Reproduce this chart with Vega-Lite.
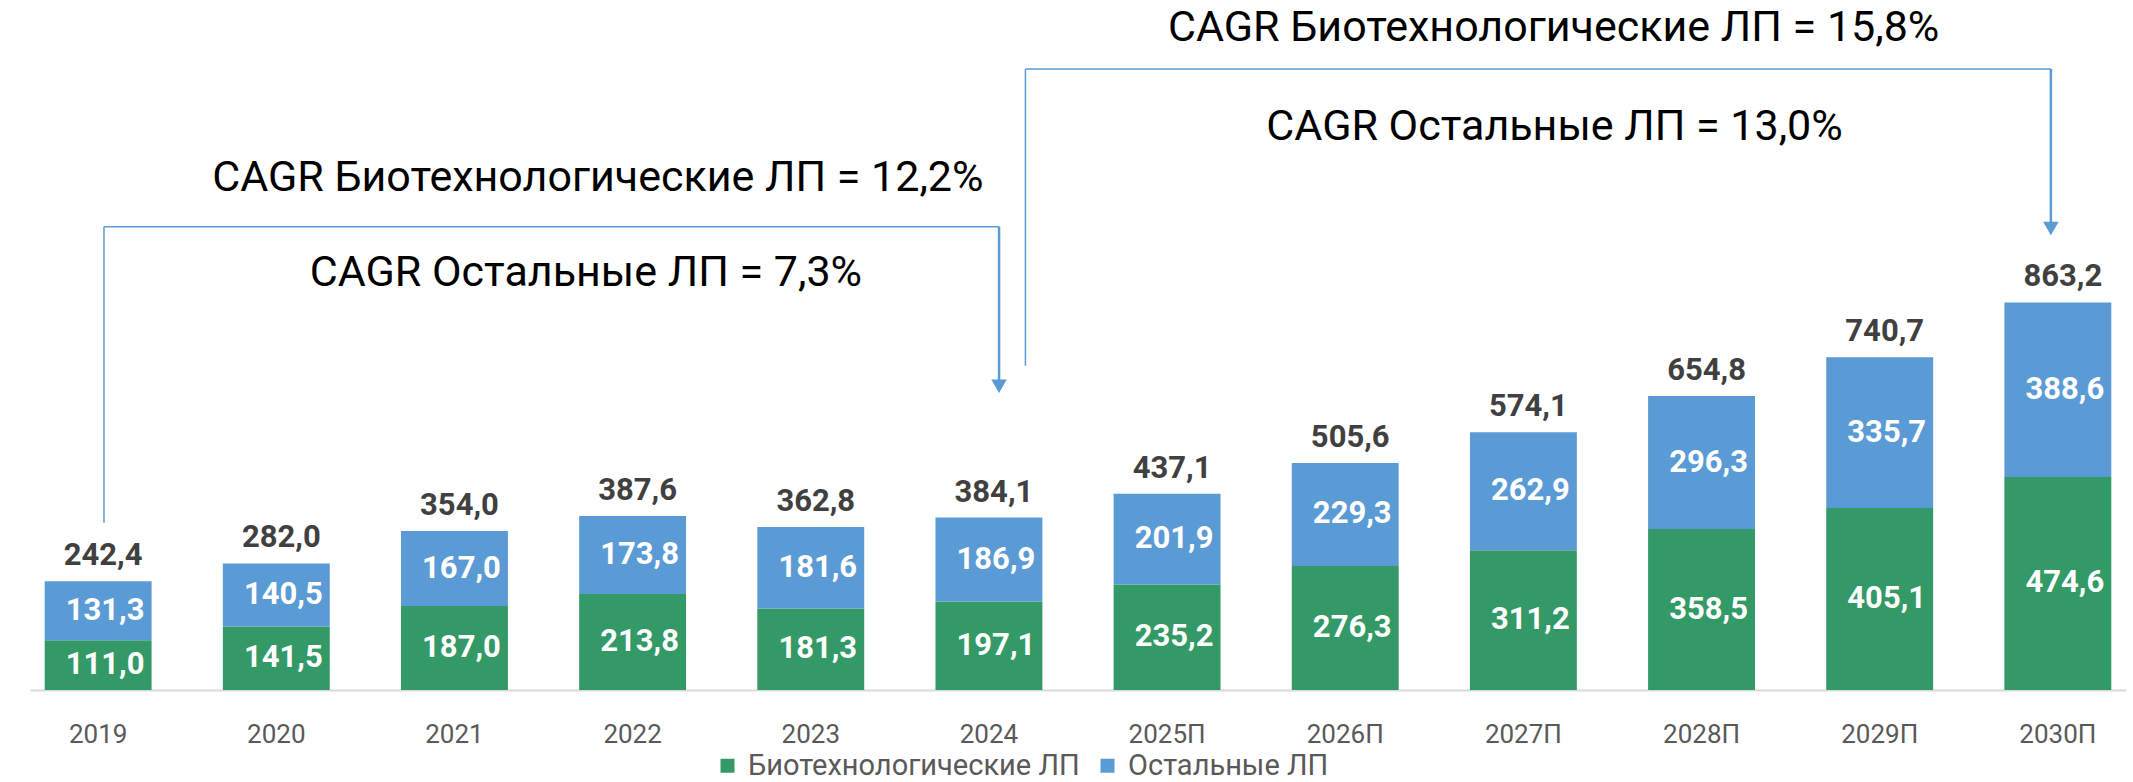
{
  "$schema": "https://vega.github.io/schema/vega-lite/v6.json",
  "width": 2096,
  "height": 690,
  "autosize": {"type": "none"},
  "padding": {"left": 30, "top": 0, "right": 7, "bottom": 92},
  "background": "white",
  "config": {
    "view": {"stroke": null},
    "font": "Roboto",
    "locale": {"number": {"decimal": ",", "thousands": " ", "grouping": [3], "currency": ["", ""]}}
  },
  "datasets": {
    "bars": [
      {"year": "2019", "series": "Биотехнологические ЛП", "value": 111.0},
      {"year": "2019", "series": "Остальные ЛП", "value": 131.3},
      {"year": "2020", "series": "Биотехнологические ЛП", "value": 141.5},
      {"year": "2020", "series": "Остальные ЛП", "value": 140.5},
      {"year": "2021", "series": "Биотехнологические ЛП", "value": 187.0},
      {"year": "2021", "series": "Остальные ЛП", "value": 167.0},
      {"year": "2022", "series": "Биотехнологические ЛП", "value": 213.8},
      {"year": "2022", "series": "Остальные ЛП", "value": 173.8},
      {"year": "2023", "series": "Биотехнологические ЛП", "value": 181.3},
      {"year": "2023", "series": "Остальные ЛП", "value": 181.6},
      {"year": "2024", "series": "Биотехнологические ЛП", "value": 197.1},
      {"year": "2024", "series": "Остальные ЛП", "value": 186.9},
      {"year": "2025П", "series": "Биотехнологические ЛП", "value": 235.2},
      {"year": "2025П", "series": "Остальные ЛП", "value": 201.9},
      {"year": "2026П", "series": "Биотехнологические ЛП", "value": 276.3},
      {"year": "2026П", "series": "Остальные ЛП", "value": 229.3},
      {"year": "2027П", "series": "Биотехнологические ЛП", "value": 311.2},
      {"year": "2027П", "series": "Остальные ЛП", "value": 262.9},
      {"year": "2028П", "series": "Биотехнологические ЛП", "value": 358.5},
      {"year": "2028П", "series": "Остальные ЛП", "value": 296.3},
      {"year": "2029П", "series": "Биотехнологические ЛП", "value": 405.1},
      {"year": "2029П", "series": "Остальные ЛП", "value": 335.7},
      {"year": "2030П", "series": "Биотехнологические ЛП", "value": 474.6},
      {"year": "2030П", "series": "Остальные ЛП", "value": 388.6}
    ],
    "totals": [
      {"year": "2019", "total": 242.4},
      {"year": "2020", "total": 282.0},
      {"year": "2021", "total": 354.0},
      {"year": "2022", "total": 387.6},
      {"year": "2023", "total": 362.8},
      {"year": "2024", "total": 384.1},
      {"year": "2025П", "total": 437.1},
      {"year": "2026П", "total": 505.6},
      {"year": "2027П", "total": 574.1},
      {"year": "2028П", "total": 654.8},
      {"year": "2029П", "total": 740.7},
      {"year": "2030П", "total": 863.2}
    ],
    "segs": [
      {"kind": "line", "xa": 0.032, "xb": 0.032, "ya": 372.6, "yb": 1031.8},
      {"kind": "line", "xa": 0.032, "xb": 5.056, "ya": 1031.8, "yb": 1031.8},
      {"kind": "arrow", "xa": 5.056, "xb": 5.056, "ya": 1031.8, "yb": 680},
      {"kind": "line", "xa": 5.204, "xb": 5.204, "ya": 722.3, "yb": 1383.1},
      {"kind": "line", "xa": 5.204, "xb": 10.96, "ya": 1383.1, "yb": 1383.1},
      {"kind": "arrow", "xa": 10.96, "xb": 10.96, "ya": 1383.1, "yb": 1031}
    ],
    "heads": [
      {"xa": 5.056, "ya": 676.6},
      {"xa": 10.96, "ya": 1027.8}
    ],
    "notes": [
      {"xa": 2.804, "ya": 1140.3, "label": "CAGR Биотехнологические ЛП = 12,2%"},
      {"xa": 2.737, "ya": 928.7, "label": "CAGR Остальные ЛП = 7,3%"},
      {"xa": 8.169, "ya": 1474.4, "label": "CAGR Биотехнологические ЛП = 15,8%"},
      {"xa": 8.174, "ya": 1253.9, "label": "CAGR Остальные ЛП = 13,0%"}
    ]
  },
  "layer": [
    {
      "layer": [
        {
          "data": {"name": "bars"},
          "mark": {"type": "bar"},
          "encoding": {
            "x": {
              "field": "year", "type": "nominal", "sort": null,
              "scale": {"paddingInner": 0.4, "paddingOuter": 0.0825},
              "axis": {
                "title": null, "labelAngle": 0, "labelFontSize": 26, "labelColor": "#595959",
                "labelFont": "Roboto", "labelPadding": 31, "ticks": false,
                "domainColor": "#D9D9D9", "domainWidth": 2
              }
            },
            "y": {
              "field": "value", "type": "quantitative", "stack": "zero",
              "scale": {"domain": [0, 1536.7], "nice": false, "zero": true},
              "axis": null
            },
            "order": {"field": "series", "type": "ordinal", "sort": "ascending"},
            "color": {
              "field": "series", "type": "nominal",
              "scale": {"domain": ["Биотехнологические ЛП", "Остальные ЛП"], "range": ["#339966", "#5B9BD5"]},
              "legend": {
                "orient": "none", "legendX": 683, "legendY": 751, "direction": "horizontal",
                "title": null, "symbolType": "square", "symbolSize": 196, "symbolStrokeWidth": 0,
                "labelFontSize": 29, "labelColor": "#595959", "labelFont": "Roboto",
                "labelOffset": 6, "columnPadding": 13, "labelLimit": 0, "padding": 0
              }
            }
          }
        },
        {
          "data": {"name": "bars"},
          "mark": {"type": "text", "color": "white", "fontWeight": "bold", "fontSize": 31, "dx": 7, "baseline": "middle", "font": "Roboto"},
          "encoding": {
            "x": {"field": "year", "type": "nominal", "sort": null},
            "y": {"field": "value", "type": "quantitative", "stack": "zero", "bandPosition": 0.5},
            "order": {"field": "series", "type": "ordinal", "sort": "ascending"},
            "detail": {"field": "series", "type": "nominal"},
            "text": {"field": "value", "type": "quantitative", "format": ".1f"}
          }
        },
        {
          "data": {"name": "totals"},
          "mark": {"type": "text", "color": "#404040", "fontWeight": "bold", "fontSize": 31, "dx": 5, "dy": -16, "baseline": "alphabetic", "font": "Roboto"},
          "encoding": {
            "x": {"field": "year", "type": "nominal", "sort": null},
            "y": {"field": "total", "type": "quantitative"},
            "text": {"field": "total", "type": "quantitative", "format": ".1f"}
          }
        }
      ]
    },
    {
      "layer": [
        {
          "data": {"name": "segs"},
          "transform": [{"filter": "datum.kind === 'line'"}],
          "mark": {"type": "rule", "color": "#5B9BD5", "strokeWidth": 1.5},
          "encoding": {
            "x": {"field": "xa", "type": "quantitative", "scale": {"domain": [-0.3833, 11.3816], "nice": false, "zero": false}, "axis": null},
            "x2": {"field": "xb"},
            "y": {"field": "ya", "type": "quantitative"},
            "y2": {"field": "yb"}
          }
        },
        {
          "data": {"name": "segs"},
          "transform": [{"filter": "datum.kind === 'arrow'"}],
          "mark": {"type": "rule", "color": "#5B9BD5", "strokeWidth": 2.5},
          "encoding": {
            "x": {"field": "xa", "type": "quantitative"},
            "x2": {"field": "xb"},
            "y": {"field": "ya", "type": "quantitative"},
            "y2": {"field": "yb"}
          }
        },
        {
          "data": {"name": "heads"},
          "mark": {"type": "point", "shape": "triangle-down", "filled": true, "color": "#5B9BD5", "opacity": 1, "size": 240},
          "encoding": {
            "x": {"field": "xa", "type": "quantitative"},
            "y": {"field": "ya", "type": "quantitative"}
          }
        },
        {
          "data": {"name": "notes"},
          "mark": {"type": "text", "color": "#000000", "fontSize": 43, "align": "center", "baseline": "middle", "font": "Roboto"},
          "encoding": {
            "x": {"field": "xa", "type": "quantitative"},
            "y": {"field": "ya", "type": "quantitative"},
            "text": {"field": "label"}
          }
        }
      ]
    }
  ],
  "resolve": {"scale": {"x": "independent"}}
}
